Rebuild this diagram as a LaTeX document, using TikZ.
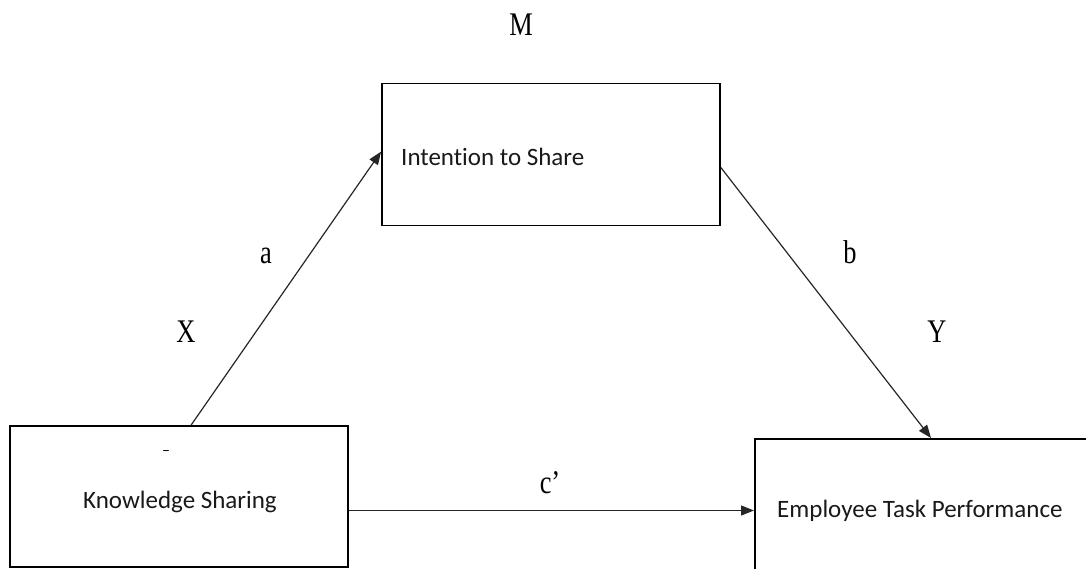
\documentclass[tikz,border=0pt]{standalone}
\usepackage{fontspec}
\setmainfont{Liberation Serif}
\newfontfamily\boxfont[Ligatures=NoCommon]{Carlito}
\usetikzlibrary{arrows.meta}

\tikzset{
  frame/.style={draw=black, line width=1.8pt, fill=none, inner sep=0pt},
  boxtext/.style={inner sep=0pt, text=black!90, font=\boxfont\fontsize{25}{25}\selectfont},
  pathlabel/.style={inner sep=0pt, anchor=base, xscale=0.8,
    font=\fontsize{33}{33}\selectfont},
  arr/.style={draw=black!85, line width=1.2pt,
    -{Triangle[length=13pt,width=10pt]}},
}

\begin{document}
\begin{tikzpicture}[x=1pt,y=-1pt]
  \useasboundingbox (0,0) rectangle (1086,569);
  \clip (0,0) rectangle (1086,569);

  % variable boxes
  \node[frame, minimum width=338pt, minimum height=142pt] (is) at (551,154.5) {};
  \node[frame, minimum width=338pt, minimum height=141pt] (ks) at (179,496.5) {};
  \node[frame, anchor=north west, minimum width=400pt, minimum height=200pt] (et) at (754,438) {};

  % box captions
  \node[boxtext, anchor=base west] (ist) at (401,166) {Intention to Share};
  \node[boxtext, anchor=base] (kst) at (180,508) {Knowledge Sharing};
  \node[boxtext, anchor=base west] (ett) at (777,517) {Employee Task Performance};
  \node[inner sep=0pt, anchor=base, font=\boxfont\fontsize{16}{16}\selectfont] (dash) at (166,455) {–};

  % paths
  \draw[arr] ([xshift=182pt]ks.north west) -- ([yshift=-69pt]is.north west);
  \draw[arr] ([yshift=-85pt]is.north east) -- ([xshift=177pt]et.north west);
  \draw[arr] ([yshift=-14pt]ks.east) -- ([yshift=-14pt]ks.east -| et.west);

  % role and path labels
  \node[pathlabel] (m) at (521,36) {M};
  \node[pathlabel] (x) at (186,342) {X};
  \node[pathlabel] (y) at (937,342) {Y};
  \node[pathlabel] (a) at (266,263) {a};
  \node[pathlabel] (b) at (850,263) {b};
  \node[pathlabel] (c) at (550,493) {c’};
\end{tikzpicture}
\end{document}
